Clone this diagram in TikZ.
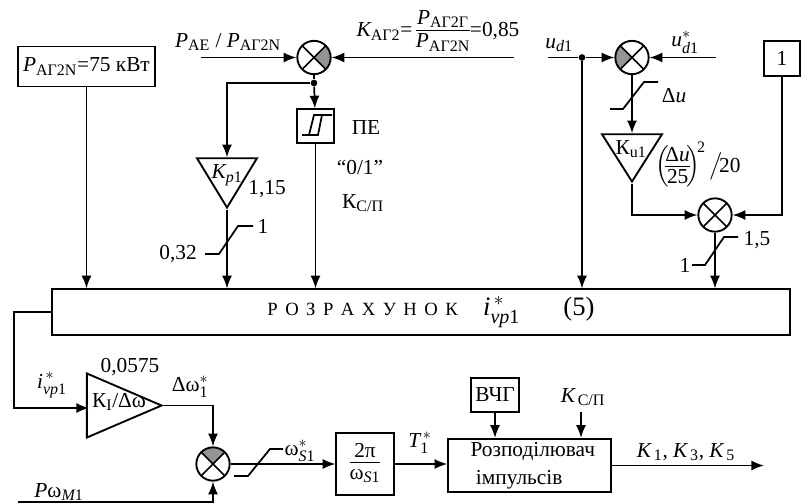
\documentclass[tikz,border=0pt]{standalone}
\usepackage{amsmath}
\usepackage{fontspec}
\setmainfont{Liberation Serif}
\usetikzlibrary{arrows.meta,shapes.geometric}
\DeclareMathSizes{16}{16}{12}{10}
\DeclareMathSizes{20}{20}{15}{12}
\setlength{\nulldelimiterspace}{0pt}
\newcommand{\fnum}[1]{\raisebox{-3.5pt}[8pt][1pt]{#1}}
\newcommand{\fden}[1]{\raisebox{3.5pt}[8pt][1pt]{#1}}
\tikzset{
  every node/.style={font=\fontsize{16}{18}\selectfont},
  line/.style={line width=1.3pt},
  arr/.style={line width=1.3pt,-{Latex[length=9.5pt,width=7.5pt]}},
  boxnode/.style={draw,line width=1.4pt,inner sep=0pt},
  sumnode/.style={circle,draw,line width=1.4pt,inner sep=0pt,minimum size=25pt,
    path picture={
      \draw[line width=1.3pt] (path picture bounding box.north west) -- (path picture bounding box.south east);
      \draw[line width=1.3pt] (path picture bounding box.north east) -- (path picture bounding box.south west);}},
  sumgray/.style 2 args={circle,draw,line width=1.4pt,inner sep=0pt,minimum size=25pt,
    path picture={
      \fill[black!42] (path picture bounding box.center) -- (path picture bounding box.#1) -- (path picture bounding box.#2) -- cycle;
      \draw[line width=1.3pt] (path picture bounding box.north west) -- (path picture bounding box.south east);
      \draw[line width=1.3pt] (path picture bounding box.north east) -- (path picture bounding box.south west);}},
  trinode/.style={isosceles triangle,isosceles triangle stretches,draw,line width=1.4pt,inner sep=0pt},
  dot/.style={circle,fill,inner sep=0pt,minimum size=5pt}
}
\begin{document}
\begin{tikzpicture}[x=0.75pt,y=-0.75pt]
\useasboundingbox (0,0) rectangle (808,504);

\node[boxnode,minimum width=103pt,minimum height=30pt] (PAG) at (86.5,66.5) {$\textit{P}_{\text{АГ2N}}$=75 кВт};
\node[boxnode,minimum width=553pt,minimum height=34pt] (Calc) at (421,312) {\hspace*{15pt}{\fontsize{14}{16}\selectfont Р\hspace{5.6pt}О\hspace{5.6pt}З\hspace{5.6pt}Р\hspace{5.6pt}А\hspace{5.6pt}Х\hspace{5.6pt}У\hspace{5.6pt}Н\hspace{5.6pt}О\hspace{5.6pt}К}\hspace{19pt}{\fontsize{20}{22}\selectfont$\textit{i}^{\,*}_{\textit{vp}\text{1}}$}\hspace{32.5pt}{\fontsize{20}{22}\selectfont(5)}};
\node[sumgray={north east}{south east}] (S1) at (314,57.5) {};
\node[sumgray={north west}{south west}] (S2) at (632,57.5) {};
\node[sumnode] (S3) at (715,215) {};
\node[sumgray={north west}{north east}] (S4) at (213,464) {};
\node[dot] (D1) at (314,83) {};
\node[dot] (D2) at (582,57.5) {};
\node[boxnode,minimum width=28pt,minimum height=25pt] (PE) at (315.5,126) {};
\node[boxnode,minimum width=27pt,minimum height=26pt] (One) at (782,58.5) {1};
\node[trinode,shape border rotate=-90,minimum width=45pt,minimum height=37pt,anchor=apex] (Kp) at (227,210) {};
\node[trinode,shape border rotate=-90,minimum width=45pt,minimum height=35.5pt,anchor=apex] (Ku) at (632,184) {};
\node[trinode,minimum width=48pt,minimum height=56pt,anchor=apex] (KI) at (164,405.5) {};
\node[boxnode,minimum width=43pt,minimum height=46pt] (W) at (365,464) {$\dfrac{\fnum{\text{\,2π\,}}}{\fden{\text{ω}$_{\textit{S}\text{1}}$}}$};
\node[boxnode,minimum width=122pt,minimum height=40pt,align=left] (Dist) at (529.5,465.5) {\hspace*{5pt}Розподілювач\\[3pt]\hspace*{9pt}імпульсів};
\node[boxnode,minimum width=36pt,minimum height=25pt] (VCH) at (495,395) {ВЧГ};

\coordinate (inP) at (201,57.5);
\coordinate (inK) at (514,57.5);
\coordinate (inU) at (548,57.5);
\coordinate (inUs) at (716,57.5);
\coordinate (cB) at (14,312);
\coordinate (KIin) at (89,408);
\coordinate (inW) at (18,502);
\coordinate (inKs) at (581,412);
\coordinate (outK) at (764,465.5);

\draw[arr] (inP) -- (S1);
\draw[arr] (inK) -- (S1);
\draw[line] (S1) -- (D1);
\draw[arr] (D1) -- (PE);
\draw[arr] (D1) -| (Kp.lower side);
\draw[arr] (Kp.apex) -- (Kp.apex |- Calc.north);
\draw[arr] (PE.south) -- (PE.south |- Calc.north);
\draw[arr] (PAG.south) -- (PAG.south |- Calc.north);
\draw[line] (inU) -- (D2);
\draw[arr] (D2) -- (S2);
\draw[arr] (inUs) -- (S2);
\draw[arr] (D2) -- (D2 |- Calc.north);
\draw[arr] (S2) -- (Ku.lower side);
\draw[arr] (Ku.apex) |- (S3);
\draw[arr] (One) |- (S3);
\draw[arr] (S3) -- (S3 |- Calc.north);
\draw[arr] (Calc.west) -- (cB) -- (cB |- KIin) -- (KIin);
\draw[arr] (KI.apex) -| (S4);
\draw[arr] (inW) -| (S4);
\draw[arr] (S4) -- (W);
\draw[arr] (W) -- (W -| Dist.west);
\draw[arr] (VCH) -- (VCH |- Dist.north);
\draw[arr] (inKs) -- (inKs |- Dist.north);
\draw[arr] (Dist.east) -- (outK);

\draw[line] (205,254) -- ++(14,0) -- ++(19,-28) -- ++(15,0);
\draw[line] (610,109) -- ++(13,0) -- ++(21,-27) -- ++(14,0);
\draw[line] (692,265) -- ++(13,0) -- ++(19,-28) -- ++(14,0);
\draw[line] (234,476) -- ++(14,0) -- ++(22,-27) -- ++(13,0);
\draw[line] (302,135) -- ++(16,0) -- ++(4,-20) -- ++(10,0);
\draw[line] (309,135) -- ++(5,-20) -- ++(8,0);

\node (tP) at (228,42) {$\textit{P}_{\text{АЕ}}$ / $\textit{P}_{\text{АГ2N}}$};
\node (tK) at (438,32) {$\textit{K}_{\text{АГ2}}$=\,$\dfrac{\fnum{$\textit{P}_{\text{АГ2Г}}$}}{\fden{$\textit{P}_{\text{АГ2N}}$}}$=0,85};
\node (tU) at (559,45) {$\textit{u}_{\textit{d}\text{1}}$};
\node (tUs) at (685,42) {$\textit{u}^{*}_{\textit{d}\text{1}}$};
\node (tDu) at (674,96) {Δ\textit{u}};
\node (tKu) at (631,149) {К$_{\text{u1}}$};
\node (tFr) at (698,165) {$\left(\!\dfrac{\fnum{Δ\textit{u}}}{\fden{25}}\!\right)^{\!\text{2}}\big/\!$20};
\node (t15) at (757,240) {1,5};
\node (t1c) at (685,265) {1};
\node (tKp) at (227,175) {$\textit{K}_{\textit{p}\text{1}}$};
\node (t115) at (267,189) {1,15};
\node (t032) at (178,254) {0,32};
\node (t1k) at (263,226) {1};
\node (tPE) at (366,128) {ПЕ};
\node (t01) at (360,167) {“0/1”};
\node (tKc) at (363,203) {К$_{\text{С/П}}$};
\node (tI) at (52,385) {$\textit{i}^{\,*}_{\textit{vp}\text{1}}$};
\node (t05) at (130,367) {0,0575};
\node (tKI) at (119,402) {К$_{\text{I}}$/Δω};
\node (tDw) at (190,387) {Δ$\text{ω}^{*}_{\text{1}}$};
\node (tPw) at (59,492) {$\textit{P}\text{ω}_{\textit{M}\text{1}}$};
\node (tWs) at (300,451) {$\text{ω}^{*}_{\textit{S}\text{1}}$};
\node (tT) at (420,443) {$\textit{T}^{\,*}_{\text{1}}$};
\node (tKs) at (583,397) {$\textit{K}_{\,\text{С/П}}$};
\node (tKK) at (686,452) {$\textit{K}_{\,\text{1}}$, $\textit{K}_{\,\text{3}}$, $\textit{K}_{\,\text{5}}$};
\end{tikzpicture}
\end{document}
